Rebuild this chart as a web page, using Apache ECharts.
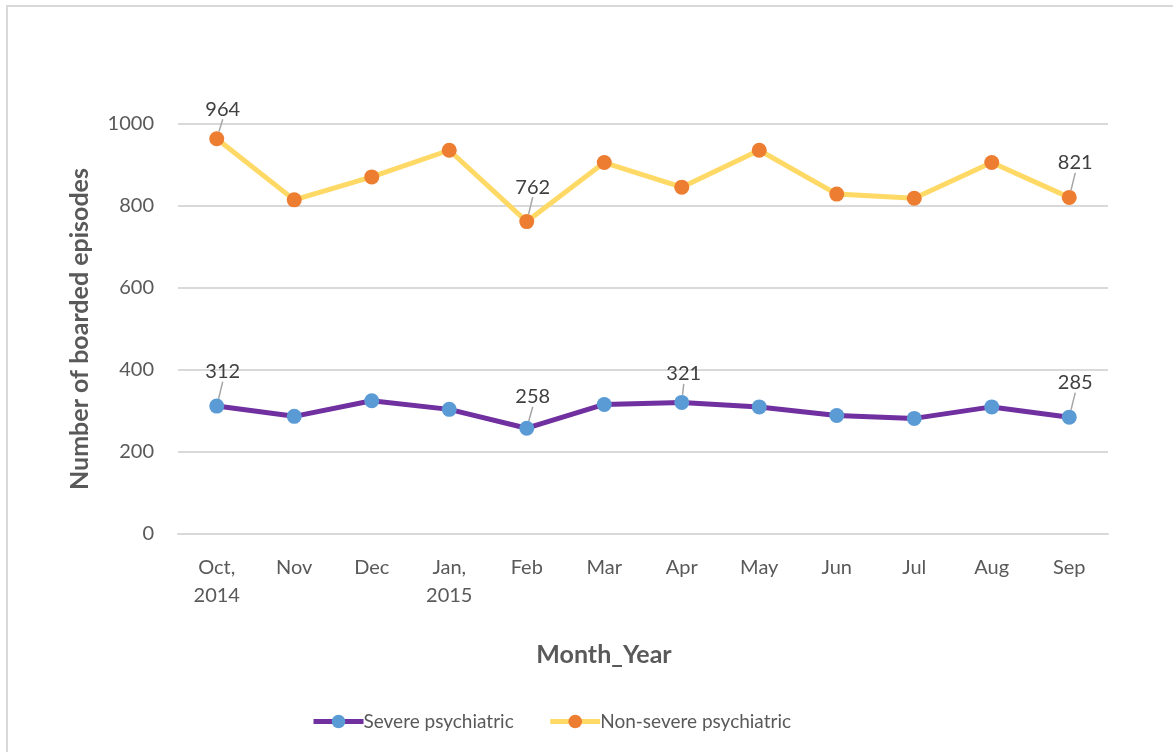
<!DOCTYPE html>
<html>
<head>
<meta charset="utf-8">
<script src="https://cdn.jsdelivr.net/npm/echarts@6/dist/echarts.min.js"></script>
<style>
html,body{margin:0;padding:0;background:#fff;}
#frame{position:absolute;left:6px;top:5px;right:-4px;bottom:-4px;border-left:2px solid #d9d9d9;border-top:2px solid #d9d9d9;}
#chart{position:absolute;left:0;top:0;width:1173px;height:752px;}
</style>
</head>
<body>
<div id="frame"></div>
<div id="chart"></div>
<script>
var categories = ['Oct,\n2014','Nov','Dec','Jan,\n2015','Feb','Mar','Apr','May','Jun','Jul','Aug','Sep'];
var severe = [312, 287, 325, 304, 258, 316, 321, 310, 289, 282, 310, 285];
var nonSevere = [964, 815, 871, 936, 762, 906, 846, 936, 829, 819, 906, 821];
var severeLabeled = [0, 4, 6, 11];
var nonSevereLabeled = [0, 4, 11];
var yTicks = [0, 200, 400, 600, 800, 1000];

var FONT = 'Lato';
function buildData(values, labeled) {
  return values.map(function (v, i) {
    return labeled.indexOf(i) >= 0 ? { value: v, label: { show: true } } : { value: v };
  });
}
var labelStyle = { show: false, position: 'top', distance: 5, color: '#404040', fontSize: 20, fontFamily: FONT };
function layoutFn(params) {
  var dy = -12, dx = 6;
  if (params.seriesIndex === 1 && params.dataIndex === 0) dy = -7;
  if (params.seriesIndex === 0 && params.dataIndex === 6) { dy = -6; dx = 2; }
  if (params.seriesIndex === 0 && params.dataIndex === 4) dy = -9;
  return { dx: dx, dy: dy };
}

var chart = echarts.init(document.getElementById('chart'));
chart.setOption({
  animation: false,
  backgroundColor: 'transparent',
  grid: { left: 178, right: 65, top: 124, bottom: 218, containLabel: false },
  legend: {
    left: 306, top: 707, itemWidth: 50, itemHeight: 17, itemGap: 34,
    lineStyle: { width: 5 },
    textStyle: { fontFamily: FONT, fontSize: 19, color: '#595959', padding: [0, 0, 0, -5] },
    data: ['Severe psychiatric', 'Non-severe psychiatric']
  },
  xAxis: {
    type: 'category', data: categories, boundaryGap: true,
    axisLine: { show: true, lineStyle: { color: '#d9d9d9', width: 2 } },
    axisTick: { show: false },
    axisLabel: { fontFamily: FONT, fontSize: 20, color: '#595959', lineHeight: 28, margin: 20, interval: 0 },
    name: 'Month_Year', nameLocation: 'middle', nameGap: 108,
    nameTextStyle: { fontFamily: FONT, fontSize: 25, fontWeight: 'bold', color: '#595959', padding: [0, 78, 0, 0] }
  },
  yAxis: {
    type: 'value', min: yTicks[0], max: yTicks[yTicks.length - 1], interval: 200,
    axisLine: { show: false }, axisTick: { show: false },
    splitLine: { lineStyle: { color: '#d9d9d9', width: 2 } },
    axisLabel: { fontFamily: FONT, fontSize: 20, color: '#595959', margin: 24, formatter: function (v) { return String(v); } },
    name: 'Number of boarded episodes', nameLocation: 'middle', nameGap: 86,
    nameTextStyle: { fontFamily: FONT, fontSize: 25, fontWeight: 'bold', color: '#595959' }
  },
  series: [
    {
      name: 'Severe psychiatric', type: 'line', data: buildData(severe, severeLabeled),
      symbol: 'circle', symbolSize: 15,
      lineStyle: { color: '#7030a0', width: 5 },
      itemStyle: { color: '#5b9bd5' },
      label: labelStyle,
      labelLayout: layoutFn,
      labelLine: { show: true, lineStyle: { color: '#a6a6a6', width: 1.5 } }
    },
    {
      name: 'Non-severe psychiatric', type: 'line', data: buildData(nonSevere, nonSevereLabeled),
      symbol: 'circle', symbolSize: 15,
      lineStyle: { color: '#ffd966', width: 5 },
      itemStyle: { color: '#ed7d31' },
      label: labelStyle,
      labelLayout: layoutFn,
      labelLine: { show: true, lineStyle: { color: '#a6a6a6', width: 1.5 } }
    }
  ]
});
</script>
</body>
</html>
